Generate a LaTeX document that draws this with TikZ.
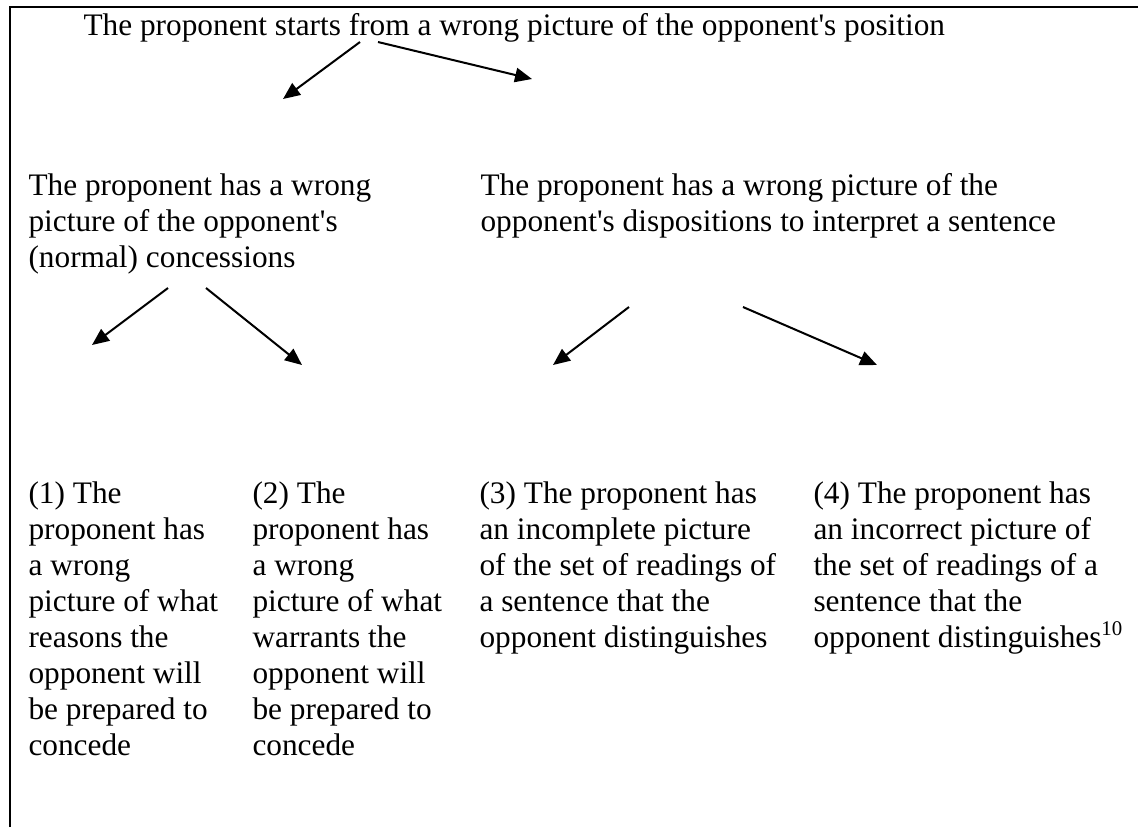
\documentclass[tikz,border=0pt]{standalone}
\usepackage{fontspec}
\setmainfont{Liberation Serif}[Ligatures=TeXOff]
\usetikzlibrary{arrows.meta}
\begin{document}
\begin{tikzpicture}[x=0.38314pt,y=-0.38314pt,
  txt/.style={anchor=base west, inner sep=0pt, font=\fontsize{12}{13.8}\selectfont},
  arr/.style={line width=0.77pt, -{Triangle[length=6.5pt,width=5.5pt]}},
  frame/.style={line width=0.8pt}]
\useasboundingbox (0,0) rectangle (1138,827);
\draw[frame] (10,827) -- (10,7) -- (1138,7);

\node[txt] (top) at (83,35) {The proponent starts from a wrong picture of the opponent's position};

\node[txt] (conc) at (28,195) {\begin{tabular}[t]{@{}l@{}}The proponent has a wrong\\picture of the opponent's\\(normal) concessions\end{tabular}};
\node[txt] (disp) at (480,195) {\begin{tabular}[t]{@{}l@{}}The proponent has a wrong picture of the\\opponent's dispositions to interpret a sentence\end{tabular}};

\node[txt] (c1) at (28,503) {\begin{tabular}[t]{@{}l@{}}(1) The\\proponent has\\a wrong\\picture of what\\reasons the\\opponent will\\be prepared to\\concede\end{tabular}};
\node[txt] (c2) at (252,503) {\begin{tabular}[t]{@{}l@{}}(2) The\\proponent has\\a wrong\\picture of what\\warrants the\\opponent will\\be prepared to\\concede\end{tabular}};
\node[txt] (c3) at (479,503) {\begin{tabular}[t]{@{}l@{}}(3) The proponent has\\an incomplete picture\\of the set of readings of\\a sentence that the\\opponent distinguishes\end{tabular}};
\node[txt] (c4) at (813,503) {\begin{tabular}[t]{@{}l@{}}(4) The proponent has\\an incorrect picture of\\the set of readings of a\\sentence that the\\opponent distinguishes\textsuperscript{10}\end{tabular}};

\coordinate (a1s) at (360,42);  \coordinate (a1e) at (283,99);
\coordinate (a2s) at (378,42);  \coordinate (a2e) at (532,79);
\coordinate (a3s) at (168,288); \coordinate (a3e) at (92,345);
\coordinate (a4s) at (206,288); \coordinate (a4e) at (302,365);
\coordinate (a5s) at (629,307); \coordinate (a5e) at (553,365);
\coordinate (a6s) at (743,307); \coordinate (a6e) at (877,365);

\draw[arr] (a1s) -- (a1e);
\draw[arr] (a2s) -- (a2e);
\draw[arr] (a3s) -- (a3e);
\draw[arr] (a4s) -- (a4e);
\draw[arr] (a5s) -- (a5e);
\draw[arr] (a6s) -- (a6e);
\end{tikzpicture}
\end{document}
